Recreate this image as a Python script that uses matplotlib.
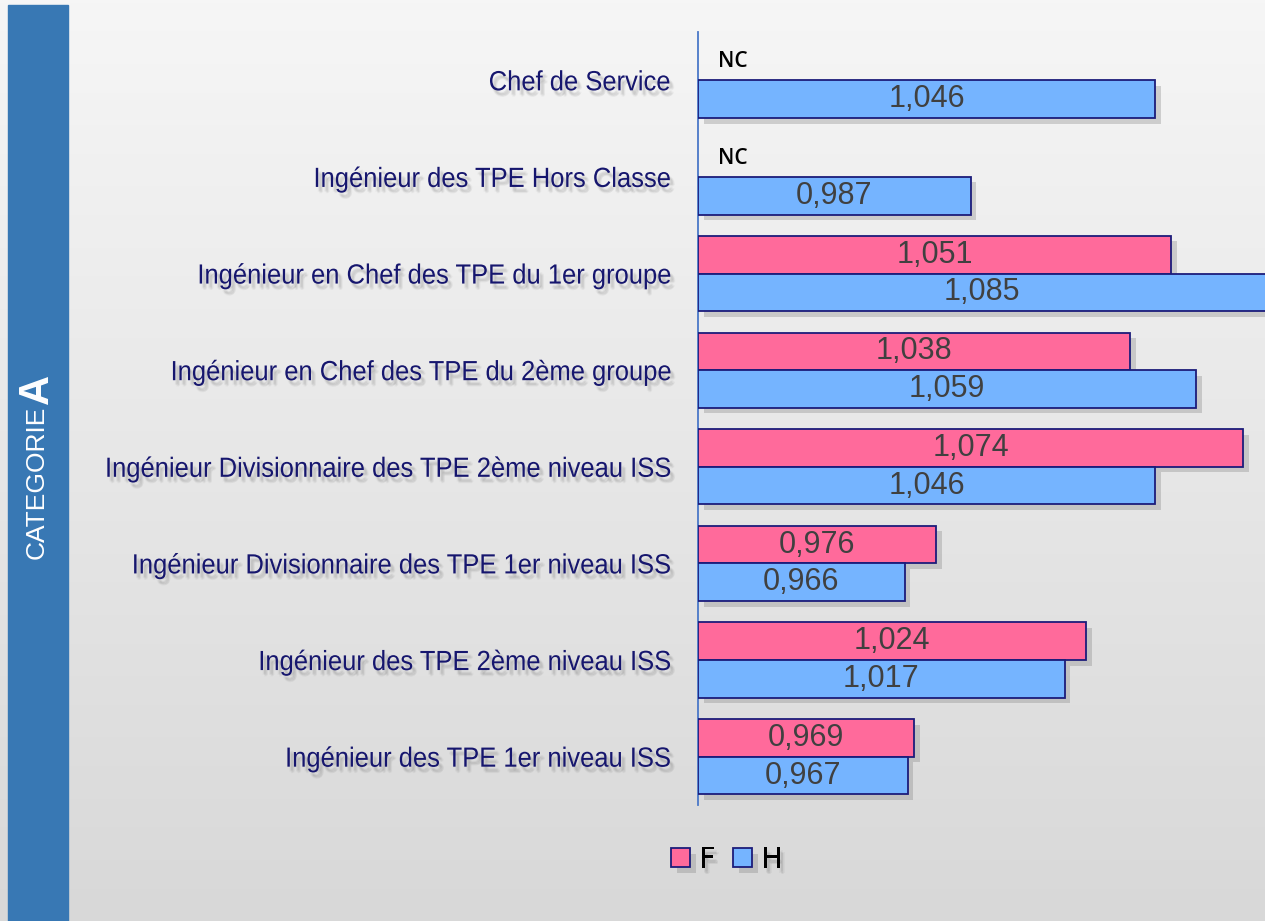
import numpy as np
import matplotlib
matplotlib.use('Agg')
import matplotlib.pyplot as plt
import matplotlib.patheffects as pe
from matplotlib.patches import Rectangle
from matplotlib.transforms import Affine2D

# données (de haut en bas)
categories = [
    'Chef de Service',
    'Ingénieur des TPE Hors Classe',
    'Ingénieur en Chef des TPE du 1er groupe',
    'Ingénieur en Chef des TPE du 2ème groupe',
    'Ingénieur Divisionnaire des TPE 2ème niveau ISS',
    'Ingénieur Divisionnaire des TPE 1er niveau ISS',
    'Ingénieur des TPE 2ème niveau ISS',
    'Ingénieur des TPE 1er niveau ISS',
]
valeurs_F = [None, None, 1.051, 1.038, 1.074, 0.976, 1.024, 0.969]
valeurs_H = [1.046, 0.987, 1.085, 1.059, 1.046, 0.966, 1.017, 0.967]

col_F = '#ff6a9b'
col_H = '#75b4ff'
col_bord = '#1c1c7a'
col_lab = '#16166e'

plt.rcParams['font.family'] = ['Liberation Sans', 'DejaVu Sans']


class Condense(pe.AbstractPathEffect):
    """texte resserré horizontalement (ancré à droite) + ombre floue"""
    def __init__(self, sx=0.92, ombre=(2.5, -3.5)):
        super().__init__()
        self.sx = sx
        self.ombre = ombre

    def draw_path(self, renderer, gc, tpath, affine, rgbFace=None):
        v = affine.transform(tpath.vertices)
        xr = v[:, 0].max() if len(v) else 0
        a = affine + Affine2D().translate(-xr, 0).scale(self.sx, 1).translate(xr, 0)
        dx = renderer.points_to_pixels(self.ombre[0])
        dy = renderer.points_to_pixels(self.ombre[1])
        # ombre floue : plusieurs passes décalées, très transparentes
        for ex, ey in [(0, 0), (-1.5, 0), (1.5, 0), (0, -1.5), (0, 1.5), (1, -1), (-1, 1)]:
            gc0 = renderer.new_gc()
            gc0.copy_properties(gc)
            gc0.set_alpha(0.045)
            renderer.draw_path(gc0, tpath, a + Affine2D().translate(dx + ex, dy + ey), (0.3, 0.3, 0.3))
            gc0.restore()
        renderer.draw_path(gc, tpath, a, rgbFace)


fig = plt.figure(figsize=(12.65, 9.21), dpi=100)

# fond dégradé
bg = fig.add_axes([0, 0, 1, 1], zorder=-10)
grad = np.linspace(0, 1, 256).reshape(-1, 1)
bg.imshow(grad, aspect='auto',
          cmap=matplotlib.colors.LinearSegmentedColormap.from_list('g', ['#f6f6f6', '#d8d8d8']),
          extent=[0, 1, 0, 1], origin='upper')
bg.add_patch(Rectangle((8 / 1265, 0), 60 / 1265, 1 - 5 / 921, color='#3878b4', transform=bg.transAxes))
bg.set_xlim(0, 1)
bg.set_ylim(0, 1)
bg.axis('off')

# texte vertical de la bande
bg.text(37 / 1265, 1 - 482 / 921, 'CATEGORIE', rotation=90, color='white', fontsize=19,
        ha='center', va='center')
bg.text(37 / 1265, 1 - 389 / 921, 'A', rotation=90, color='white', fontsize=30, fontweight='bold',
        ha='center', va='center')

ax = fig.add_axes([698 / 1265, 116 / 921, 567 / 1265, 773 / 921])
ax.set_facecolor('none')

xmin, xmax = 0.9, 1.081
y = np.arange(len(categories))
h = 0.39
ombre = [pe.SimplePatchShadow(offset=(4, -4), shadow_rgbFace='#7a7a7a', alpha=0.3), pe.Normal()]

for i in range(len(categories)):
    f = valeurs_F[i]
    hv = valeurs_H[i]
    if f is not None:
        b = ax.barh(y[i] - h / 2, f - xmin, left=xmin, height=h, color=col_F,
                    edgecolor=col_bord, linewidth=1.3, zorder=3)
        b[0].set_path_effects(ombre)
        ax.text((xmin + min(f, xmax)) / 2, y[i] - h / 2, f'{f:.3f}'.replace('.', ','),
                ha='center', va='center', fontsize=22, color='#404040', zorder=5)
    else:
        ax.text(xmin + 0.0065, y[i] - h / 2, 'NC', ha='left', va='center', fontsize=15,
                fontweight='semibold', color='black', family=['Open Sans', 'DejaVu Sans'], zorder=5)
    b = ax.barh(y[i] + h / 2, hv - xmin, left=xmin, height=h, color=col_H,
                edgecolor=col_bord, linewidth=1.3, zorder=3)
    b[0].set_path_effects(ombre)
    ax.text((xmin + min(hv, xmax)) / 2, y[i] + h / 2, f'{hv:.3f}'.replace('.', ','),
            ha='center', va='center', fontsize=22, color='#404040', zorder=5)

ax.set_xlim(xmin, xmax)
ax.set_ylim(len(categories) - 0.5, -0.5)
ax.set_yticks(y)
ax.set_yticklabels(categories, fontsize=20, color=col_lab)
for t in ax.get_yticklabels():
    t.set_path_effects([Condense(0.92)])
ax.tick_params(axis='y', length=0, pad=20)
ax.set_xticks([])
for s in ['top', 'right', 'bottom']:
    ax.spines[s].set_visible(False)
ax.spines['left'].set_color('#4a78c8')
ax.spines['left'].set_linewidth(1.3)

# légende
poignees = [Rectangle((0, 0), 1, 1, facecolor=col_F, edgecolor=col_bord, linewidth=1.3),
            Rectangle((0, 0), 1, 1, facecolor=col_H, edgecolor=col_bord, linewidth=1.3)]
leg = fig.legend(poignees, ['F', 'H'], loc='center', bbox_to_anchor=(727 / 1265, 1 - 860 / 921),
                 ncol=2, frameon=False, handlelength=0.65, handleheight=0.65,
                 handletextpad=0.3, columnspacing=0.6,
                 prop={'family': ['DejaVu Sans'], 'size': 21})
for p in leg.get_patches():
    p.set_path_effects(ombre)
for t in leg.get_texts():
    t.set_color('black')
    t.set_path_effects([Condense(1.0)])

fig.savefig('out.png', dpi=100)
